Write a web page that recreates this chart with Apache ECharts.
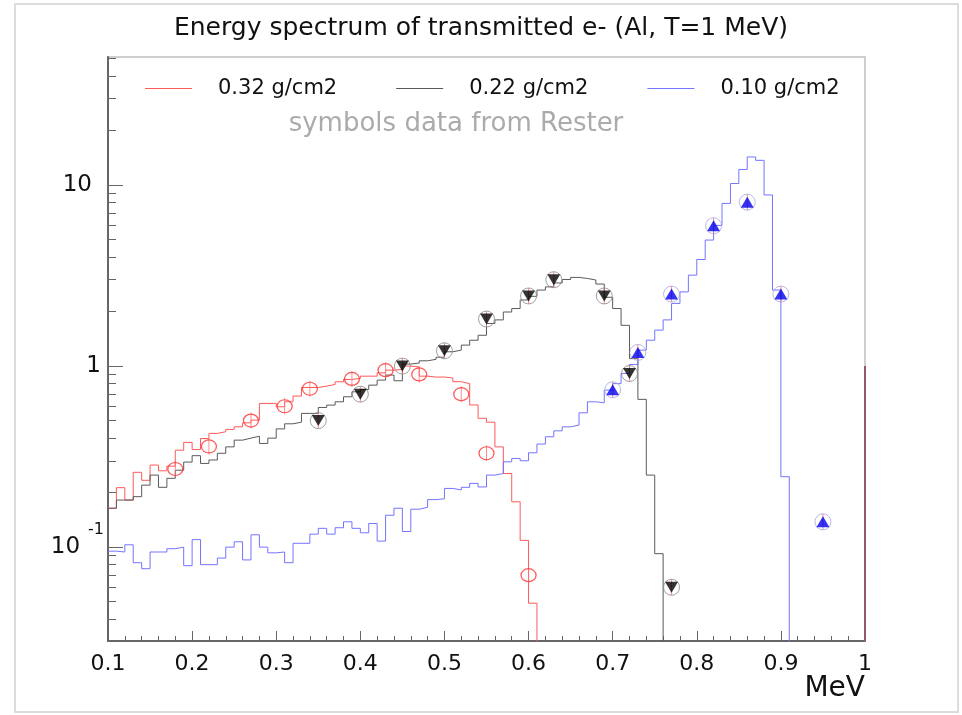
<!DOCTYPE html>
<html>
<head>
<meta charset="utf-8">
<title>Energy spectrum of transmitted e-</title>
<script src="https://cdn.jsdelivr.net/npm/echarts@6/dist/echarts.min.js"></script>
<style>
  html, body { margin: 0; padding: 0; background: #fff; }
  #chart { width: 962px; height: 715px; }
</style>
</head>
<body>
<div id="chart"></div>
<script>
// histograms: 90 bins of 0.01 MeV starting at 0.10 MeV
const binStart = 0.1
const binWidth = 0.01

const hist032 = [
  0.164, 0.213, 0.182, 0.259, 0.234, 0.284, 0.264, 0.280, 0.343, 0.379,
  0.346, 0.398, 0.425, 0.434, 0.447, 0.462, 0.486, 0.503, 0.622, 0.622,
  0.596, 0.635, 0.683, 0.762, 0.762, 0.775, 0.792, 0.819, 0.844, 0.855,
  0.880, 0.880, 0.918, 0.950, 0.958, 1.000, 0.990, 0.880, 0.870, 0.870,
  0.860, 0.820, 0.800, 0.610, 0.515, 0.490, 0.358, 0.255, 0.178, 0.109,
  0.049, 0, 0, 0, 0, 0, 0, 0, 0, 0,
  0, 0, 0, 0, 0, 0, 0, 0, 0, 0,
  0, 0, 0, 0, 0, 0, 0, 0, 0, 0,
  0, 0, 0, 0, 0, 0, 0, 0, 0, 0
]
const hist022 = [
  0.164, 0.182, 0.182, 0.190, 0.220, 0.250, 0.214, 0.240, 0.266, 0.295,
  0.320, 0.290, 0.303, 0.330, 0.358, 0.390, 0.400, 0.410, 0.374, 0.400,
  0.450, 0.480, 0.490, 0.548, 0.548, 0.591, 0.609, 0.635, 0.677, 0.721,
  0.743, 0.785, 0.837, 0.892, 0.830, 1.026, 1.040, 1.070, 1.090, 1.120,
  1.200, 1.226, 1.306, 1.390, 1.480, 1.720, 1.800, 1.990, 2.080, 2.320,
  2.430, 2.630, 2.740, 2.880, 3.010, 3.090, 3.050, 2.990, 2.840, 2.400,
  2.080, 1.680, 1.100, 0.655, 0.250, 0.092, 0, 0, 0, 0,
  0, 0, 0, 0, 0, 0, 0, 0, 0, 0,
  0, 0, 0, 0, 0, 0, 0, 0, 0, 0
]
const hist010 = [
  0.095, 0.094, 0.103, 0.082, 0.076, 0.094, 0.094, 0.098, 0.100, 0.079,
  0.110, 0.080, 0.080, 0.087, 0.100, 0.107, 0.085, 0.117, 0.100, 0.093,
  0.094, 0.082, 0.105, 0.105, 0.118, 0.127, 0.118, 0.128, 0.138, 0.127,
  0.120, 0.135, 0.108, 0.150, 0.164, 0.122, 0.162, 0.166, 0.183, 0.185,
  0.211, 0.207, 0.214, 0.225, 0.215, 0.250, 0.255, 0.296, 0.309, 0.300,
  0.332, 0.371, 0.407, 0.439, 0.462, 0.472, 0.552, 0.635, 0.627, 0.737,
  0.800, 0.911, 1.020, 1.226, 1.390, 1.580, 1.800, 2.220, 2.570, 3.180,
  3.880, 4.970, 5.990, 7.920, 10.20, 12.20, 14.30, 13.70, 8.820, 2.630,
  0.245, 0, 0, 0, 0, 0, 0, 0, 0, 0
]

// Rester measurements [MeV, value]
const rester032 = [[0.18, 0.27], [0.22, 0.36], [0.27, 0.50], [0.31, 0.60], [0.34, 0.75], [0.39, 0.85],
  [0.43, 0.95], [0.47, 0.90], [0.52, 0.70], [0.55, 0.33], [0.60, 0.070]]
const rester022 = [[0.35, 0.50], [0.40, 0.70], [0.45, 1.00], [0.50, 1.215], [0.55, 1.82], [0.60, 2.44],
  [0.63, 3.00], [0.69, 2.44], [0.72, 0.91], [0.77, 0.060]]
const rester010 = [[0.70, 0.74], [0.73, 1.19], [0.77, 2.50], [0.82, 5.96], [0.86, 8.05], [0.90, 2.50],
  [0.95, 0.138]]

// the short dark line sitting on the right frame edge
const edgeLine = [[1.0, 1.0], [1.0, 0.0303]]

const names = ['0.32 g/cm2', '0.22 g/cm2', '0.10 g/cm2']
const yMin = 0.0303
const yMax = 51
const yMinorTicks = [0.04, 0.05, 0.06, 0.07, 0.08, 0.09, 0.2, 0.3, 0.4, 0.5, 0.6, 0.7, 0.8, 0.9,
  2, 3, 4, 5, 6, 7, 8, 9, 20, 30, 40, 50]

const FONT = 'DejaVu Sans'
const yFloor = 0.01

function histData(bins) {
  let last = bins.length - 1
  while (last >= 0 && bins[last] === 0) last--
  const pts = []
  for (let i = 0; i <= last; i++) pts.push([+(binStart + i * binWidth).toFixed(2), bins[i]])
  const endX = +(binStart + (last + 1) * binWidth).toFixed(2)
  pts.push([endX, last === bins.length - 1 ? bins[last] : yFloor])
  return pts
}

function histSeries(name, bins, color) {
  return {
    name: name,
    type: 'line',
    step: 'end',
    symbol: 'none',
    clip: true,
    silent: true,
    lineStyle: { color: color, width: 1 },
    itemStyle: { color: color },
    data: histData(bins),
    z: 2
  }
}

function errSeries(pts) {
  return {
    type: 'scatter', symbol: 'rect', symbolSize: [1, 16], silent: true,
    itemStyle: { color: '#ff7070' }, data: pts, z: 3
  }
}

var myChart = echarts.init(document.getElementById('chart'))

const option = {
  animation: false,
  backgroundColor: '#fff',
  title: {
    text: 'Energy spectrum of transmitted e- (Al, T=1 MeV)',
    left: 'center',
    top: 16,
    padding: [0, 0, 0, 11],
    textStyle: { fontFamily: FONT, fontSize: 25, fontWeight: 'normal', color: '#111' }
  },
  legend: {
    data: names.map(function (n) { return { name: n, icon: 'rect' } }),
    left: 140,
    top: 73,
    itemWidth: 47,
    itemHeight: 1,
    itemGap: 59,
    textStyle: { fontFamily: FONT, fontSize: 21, color: '#111', padding: [0, 0, 0, 21] }
  },
  grid: {
    left: 108, right: 97, top: 57, bottom: 74,
    show: true, borderColor: '#cfcfcf', borderWidth: 2
  },
  xAxis: {
    type: 'value',
    min: 0.1,
    max: 1,
    interval: 0.1,
    axisLine: { onZero: false, lineStyle: { color: '#666', width: 2 } },
    axisTick: { inside: true, length: 10, lineStyle: { color: '#666' } },
    minorTick: { show: true, splitNumber: 5, length: 5, lineStyle: { color: '#666' } },
    splitLine: { show: false },
    axisLabel: { fontFamily: FONT, fontSize: 22, color: '#111', margin: 12 }
  },
  yAxis: [
    {
      type: 'log',
      min: yMin,
      max: yMax,
      axisLine: { show: true, onZero: false, lineStyle: { color: '#666', width: 2 } },
      axisTick: { inside: true, length: 15, lineStyle: { color: '#666' } },
      splitLine: { show: false },
      axisLabel: {
        margin: 4,
        showMinLabel: false,
        showMaxLabel: false,
        formatter: function (v) {
          if (Math.abs(v - 10) < 1e-6) return '{a|10}'
          if (Math.abs(v - 1) < 1e-6) return '{b|1}'
          if (Math.abs(v - 0.1) < 1e-7) return '{c|10}{s|-1}'
          return ''
        },
        rich: {
          a: { fontFamily: FONT, fontSize: 23, color: '#111', padding: [0, 12, 0, 0] },
          b: { fontFamily: FONT, fontSize: 23, color: '#111', padding: [0, 3, 0, 0] },
          c: { fontFamily: FONT, fontSize: 23, color: '#111' },
          s: { fontFamily: FONT, fontSize: 16, color: '#111', padding: [0, 0, 34, 8] }
        }
      }
    },
    {
      // minor decade ticks (2..9 x 10^n), drawn on a linear axis in log10 units
      type: 'value',
      min: Math.log10(yMin),
      max: Math.log10(yMax),
      position: 'left',
      axisLine: { show: false, onZero: false },
      axisLabel: { show: false },
      splitLine: { show: false },
      axisTick: {
        show: true, inside: true, length: 8,
        customValues: yMinorTicks.map(function (v) { return Math.log10(v) }),
        lineStyle: { color: '#666' }
      }
    }
  ],
  graphic: [
    {
      type: 'rect', silent: true,
      shape: { x: 15, y: 4, width: 943, height: 708 },
      style: { fill: 'none', stroke: '#dcdcdc', lineWidth: 2 }
    },
    {
      type: 'text', x: 456, y: 124, silent: true,
      style: {
        text: 'symbols data from Rester', font: '26px "DejaVu Sans"', fill: '#ababab',
        textAlign: 'center', textVerticalAlign: 'middle'
      }
    },
    {
      type: 'text', right: 97, top: 675, silent: true,
      style: { text: 'MeV', font: '28px "DejaVu Sans"', fill: '#111' }
    }
  ],
  series: [
    histSeries(names[0], hist032, '#ff5a5a'),
    histSeries(names[1], hist022, '#5a5a5a'),
    histSeries(names[2], hist010, '#7474ff'),
    {
      type: 'line', symbol: 'none', silent: true, clip: true,
      lineStyle: { color: '#9a566c', width: 2 }, data: edgeLine, z: 4
    },
    errSeries(rester032),
    errSeries(rester022),
    errSeries(rester010),
    {
      type: 'scatter', symbol: 'circle', symbolSize: [15, 13], silent: true,
      itemStyle: { color: 'transparent', borderColor: '#ff3030', borderWidth: 1.2 },
      data: rester032, z: 5
    },
    {
      type: 'scatter', symbol: 'circle', symbolSize: 16, silent: true,
      itemStyle: { color: 'transparent', borderColor: '#888', borderWidth: 1 },
      data: rester022, z: 5
    },
    {
      type: 'scatter', symbol: 'triangle', symbolRotate: 180, symbolSize: [13, 11], silent: true,
      itemStyle: { color: '#000' },
      data: rester022, z: 6
    },
    {
      type: 'scatter', symbol: 'circle', symbolSize: 16, silent: true,
      itemStyle: { color: 'transparent', borderColor: '#a8a8e0', borderWidth: 1 },
      data: rester010, z: 5
    },
    {
      type: 'scatter', symbol: 'triangle', symbolSize: [13, 11], silent: true,
      itemStyle: { color: '#0000ee' },
      data: rester010, z: 6
    }
  ]
}

myChart.setOption(option)
</script>
</body>
</html>
